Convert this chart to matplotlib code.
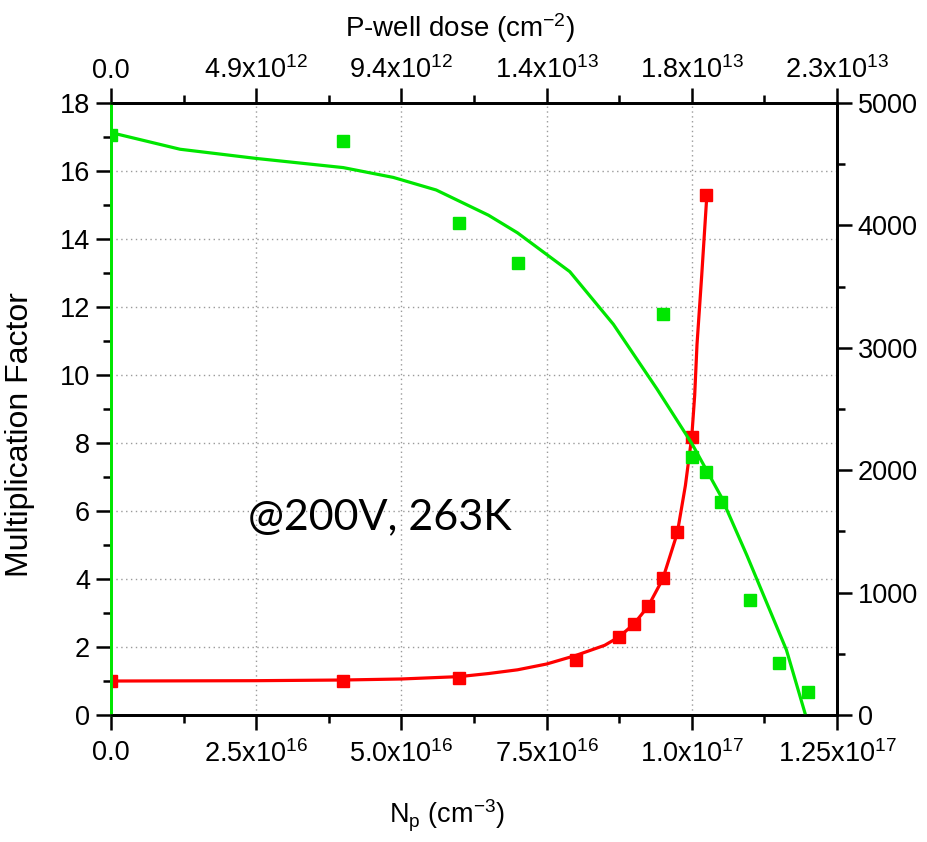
import matplotlib
matplotlib.use("Agg")
import matplotlib.pyplot as plt
from matplotlib.ticker import MultipleLocator, FixedLocator

plt.rcParams['font.family'] = ['Liberation Sans', 'DejaVu Sans']
plt.rcParams['mathtext.fontset'] = 'custom'
plt.rcParams['mathtext.rm'] = 'Liberation Sans'
plt.rcParams['mathtext.it'] = 'Liberation Sans'
plt.rcParams['mathtext.default'] = 'regular'

# ---- data ----
np_red = [0, 4.0e16, 6.0e16, 8.0e16, 8.75e16, 9.0e16, 9.25e16, 9.5e16, 9.75e16, 1.0e17, 1.025e17]
mf_red = [1.0, 1.01, 1.08, 1.62, 2.29, 2.67, 3.21, 4.02, 5.38, 8.19, 15.28]

fit_np = [0, 2.5e16, 4e16, 5e16, 6e16, 6.5e16, 7e16, 7.5e16, 8e16, 8.25e16, 8.5e16,
          8.75e16, 9e16, 9.25e16, 9.5e16, 9.75e16, 9.89e16, 1.0e17, 1.005e17,
          1.009e17, 1.017e17, 1.023e17, 1.026e17]
fit_mf = [1.0, 1.01, 1.03, 1.06, 1.13, 1.22, 1.33, 1.5, 1.75, 1.9, 2.05,
          2.3, 2.67, 3.2, 4.0, 5.35, 6.75, 8.19, 9.4,
          10.9, 12.9, 14.5, 15.3]

np_green = [0, 4.0e16, 6.0e16, 7.0e16, 9.5e16, 1.0e17, 1.025e17, 1.05e17, 1.1e17, 1.15e17, 1.2e17]
val_green = [4740, 4692, 4022, 3693, 3278, 2110, 1984, 1738, 936, 429, 186]

gfit_np = [0, 1.19e16, 2.5e16, 4.0e16, 4.86e16, 5.6e16, 6.5e16, 7.0e16, 7.9e16, 8.65e16,
           9.4e16, 1.0e17, 1.05e17, 1.095e17, 1.163e17, 1.195e17]
gfit_val = [4758, 4622, 4547, 4472, 4392, 4289, 4083, 3939, 3622, 3192,
            2664, 2219, 1789, 1303, 531, 14]

bottom_ticks = [0, 2.5e16, 5.0e16, 7.5e16, 1.0e17, 1.25e17]
bottom_labels = ['0.0', r'2.5x10$^{16}$', r'5.0x10$^{16}$', r'7.5x10$^{16}$',
                 r'1.0x10$^{17}$', r'1.25x10$^{17}$']
top_labels = ['0.0', r'4.9x10$^{12}$', r'9.4x10$^{12}$', r'1.4x10$^{13}$',
              r'1.8x10$^{13}$', r'2.3x10$^{13}$']

RED = '#ff0000'
GREEN = '#00e600'

fig = plt.figure(figsize=(9.27, 8.42), dpi=100)
ax = fig.add_axes([0.1197, 0.1508, 0.7832, 0.7269])
ax2 = ax.twinx()
ax3 = ax.twiny()

fs = 19.5
ax.plot(fit_np, fit_mf, color=RED, lw=2.3, zorder=3)
ax.plot(np_red, mf_red, 's', color=RED, ms=8, zorder=4)
ax2.plot(gfit_np, gfit_val, color=GREEN, lw=2.3, zorder=3)
ax2.plot(np_green, val_green, 's', color=GREEN, ms=8, zorder=4)

ax.set_xlim(0, 1.25e17)
ax.set_ylim(0, 18)
ax2.set_ylim(0, 5000)
ax3.set_xlim(0, 1.25e17)

ax.xaxis.set_major_locator(FixedLocator(bottom_ticks))
ax.set_xticklabels(bottom_labels)
ax.xaxis.set_minor_locator(MultipleLocator(1.25e16))
ax.yaxis.set_major_locator(MultipleLocator(2))
ax.yaxis.set_minor_locator(MultipleLocator(1))
ax2.yaxis.set_major_locator(MultipleLocator(1000))
ax2.yaxis.set_minor_locator(MultipleLocator(500))
ax3.xaxis.set_major_locator(FixedLocator(bottom_ticks))
ax3.set_xticklabels(top_labels)
ax3.xaxis.set_minor_locator(MultipleLocator(1.25e16))

for a in (ax, ax2, ax3):
    a.tick_params(which='major', direction='out', length=11, width=1.8, labelsize=fs, pad=4)
    a.tick_params(which='minor', direction='out', length=6, width=1.8)
    for s in a.spines.values():
        s.set_linewidth(1.8)
ax.tick_params(axis='x', pad=7)
ax3.tick_params(axis='x', pad=3)
ax.spines['left'].set_color(GREEN)
ax2.spines['left'].set_color(GREEN)
ax3.spines['left'].set_color(GREEN)

ax.grid(True, which='major', color='#9a9a9a', linestyle=(0, (1, 2.5)), linewidth=1.0)
ax.set_axisbelow(True)

ax.set_ylabel('Multiplication Factor', fontsize=23)
ax.yaxis.set_label_coords(-0.105, 0.459)
ax.set_xlabel(r'N$_p$ (cm$^{-3}$)', fontsize=19.5)
ax.xaxis.set_label_coords(0.463, -0.135)
ax3.set_xlabel(r'P-well dose (cm$^{-2}$)', fontsize=20)
ax3.xaxis.set_label_coords(0.481, 1.108)

ax.text(0.189, 0.3235, '@200V, 263K', transform=ax.transAxes, fontsize=31,
        family=['Lato', 'DejaVu Sans'], ha='left', va='center', zorder=5)

fig.savefig('out.png', dpi=100)
